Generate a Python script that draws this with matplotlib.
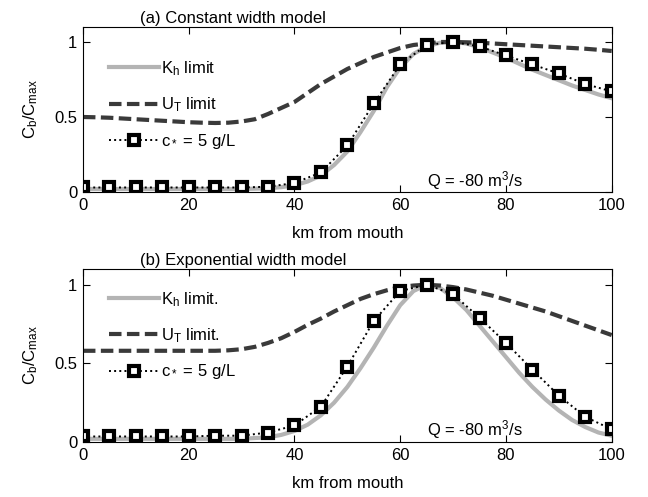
import matplotlib
matplotlib.use('Agg')
import matplotlib.pyplot as plt
import numpy as np

plt.rcParams['font.family'] = ['Liberation Sans', 'DejaVu Sans']
plt.rcParams['mathtext.fontset'] = 'custom'
plt.rcParams['mathtext.rm'] = 'Liberation Sans'
plt.rcParams['mathtext.it'] = 'Liberation Sans'
plt.rcParams['mathtext.bf'] = 'Liberation Sans'
plt.rcParams['font.size'] = 12

# distance from mouth (km)
km_line = np.arange(0, 100.1, 2.5)
km_mark = np.arange(0, 100.1, 5)

# (a) constant width model
kh_a = [0.02, 0.02, 0.02, 0.02, 0.02, 0.02, 0.02, 0.02, 0.02, 0.02, 0.02, 0.02, 0.02,
        0.022, 0.025, 0.032, 0.045, 0.07, 0.11, 0.18, 0.27, 0.40, 0.54, 0.70, 0.83,
        0.92, 0.97, 0.995, 1.0, 0.99, 0.965, 0.93, 0.895, 0.855, 0.815, 0.78, 0.745,
        0.71, 0.68, 0.65, 0.625]
ut_a = [0.50, 0.498, 0.495, 0.49, 0.485, 0.48, 0.475, 0.47, 0.465, 0.462, 0.46, 0.462,
        0.47, 0.485, 0.52, 0.56, 0.60, 0.66, 0.72, 0.77, 0.82, 0.86, 0.90, 0.93, 0.96,
        0.98, 0.99, 1.0, 1.0, 0.998, 0.995, 0.99, 0.985, 0.98, 0.975, 0.97, 0.965,
        0.96, 0.955, 0.948, 0.94]
cs_a = [0.03, 0.03, 0.03, 0.03, 0.03, 0.03, 0.03, 0.035, 0.06, 0.13, 0.31, 0.59,
        0.85, 0.98, 1.0, 0.97, 0.91, 0.85, 0.79, 0.72, 0.67]

# (b) exponential width model
kh_b = [0.02, 0.02, 0.02, 0.02, 0.02, 0.02, 0.02, 0.02, 0.02, 0.02, 0.02, 0.02, 0.02,
        0.025, 0.03, 0.045, 0.07, 0.11, 0.17, 0.25, 0.35, 0.47, 0.60, 0.74, 0.87,
        0.96, 1.0, 0.98, 0.92, 0.84, 0.74, 0.64, 0.54, 0.44, 0.35, 0.27, 0.20, 0.14,
        0.095, 0.06, 0.04]
ut_b = [0.58, 0.58, 0.58, 0.58, 0.58, 0.58, 0.58, 0.58, 0.58, 0.58, 0.58, 0.583, 0.59,
        0.605, 0.63, 0.66, 0.70, 0.745, 0.785, 0.83, 0.87, 0.91, 0.94, 0.965, 0.985,
        0.995, 1.0, 0.995, 0.985, 0.97, 0.95, 0.93, 0.905, 0.88, 0.855, 0.83, 0.80,
        0.77, 0.74, 0.71, 0.68]
cs_b = [0.035, 0.035, 0.035, 0.035, 0.035, 0.04, 0.04, 0.06, 0.105, 0.225, 0.48, 0.77,
        0.96, 1.0, 0.94, 0.79, 0.63, 0.46, 0.295, 0.16, 0.08]

panels = [
    ('(a) Constant width model', kh_a, ut_a, cs_a,
     ['K$_h$ limit', 'U$_T$ limit', 'c$_*$ = 5 g/L'],
     [0.128, 0.6137, 0.816, 0.332], 0.895),
    ('(b) Exponential width model', kh_b, ut_b, cs_b,
     ['K$_h$ limit.', 'U$_T$ limit.', 'c$_*$ = 5 g/L'],
     [0.128, 0.1107, 0.816, 0.348], 0.965),
]

fig = plt.figure(figsize=(6.48, 4.97), dpi=100)

for title, kh, ut, cs, labels, pos, leg_y in panels:
    ax = fig.add_axes(pos)
    ax.plot(km_line, kh, color='#b4b4b4', lw=3, label=labels[0])
    ax.plot(km_line, ut, color='#3a3a3a', lw=3, dashes=(3, 1.3), label=labels[1])
    ax.plot(km_mark, cs, color='black', lw=1.4, ls=':', marker='s', ms=7,
            mfc='white', mec='black', mew=3.0, label=labels[2])

    ax.set_xlim(0, 100)
    ax.set_ylim(0, 1.1)
    ax.set_xticks([0, 20, 40, 60, 80, 100])
    ax.set_yticks([0, 0.5, 1])
    ax.set_yticklabels(['0', '0.5', '1'])
    ax.tick_params(direction='in', top=True, right=True, length=5, width=0.8, pad=4)
    for sp in ax.spines.values():
        sp.set_linewidth(0.8)

    ax.set_xlabel('km from mouth', labelpad=10)
    ax.set_ylabel('C$_b$/C$_{max}$', labelpad=10)
    ax.text(0.108, 1.005, title, transform=ax.transAxes, ha='left', va='bottom')
    ax.text(65, 0.04, 'Q = -80 m$^3$/s', ha='left', va='baseline')

    ax.legend(loc='upper left', bbox_to_anchor=(0.02, leg_y), frameon=False,
              handlelength=3.0, handletextpad=0.15, labelspacing=1.05,
              numpoints=1, borderaxespad=0.5)

fig.savefig('out.png', dpi=100, facecolor='white')
